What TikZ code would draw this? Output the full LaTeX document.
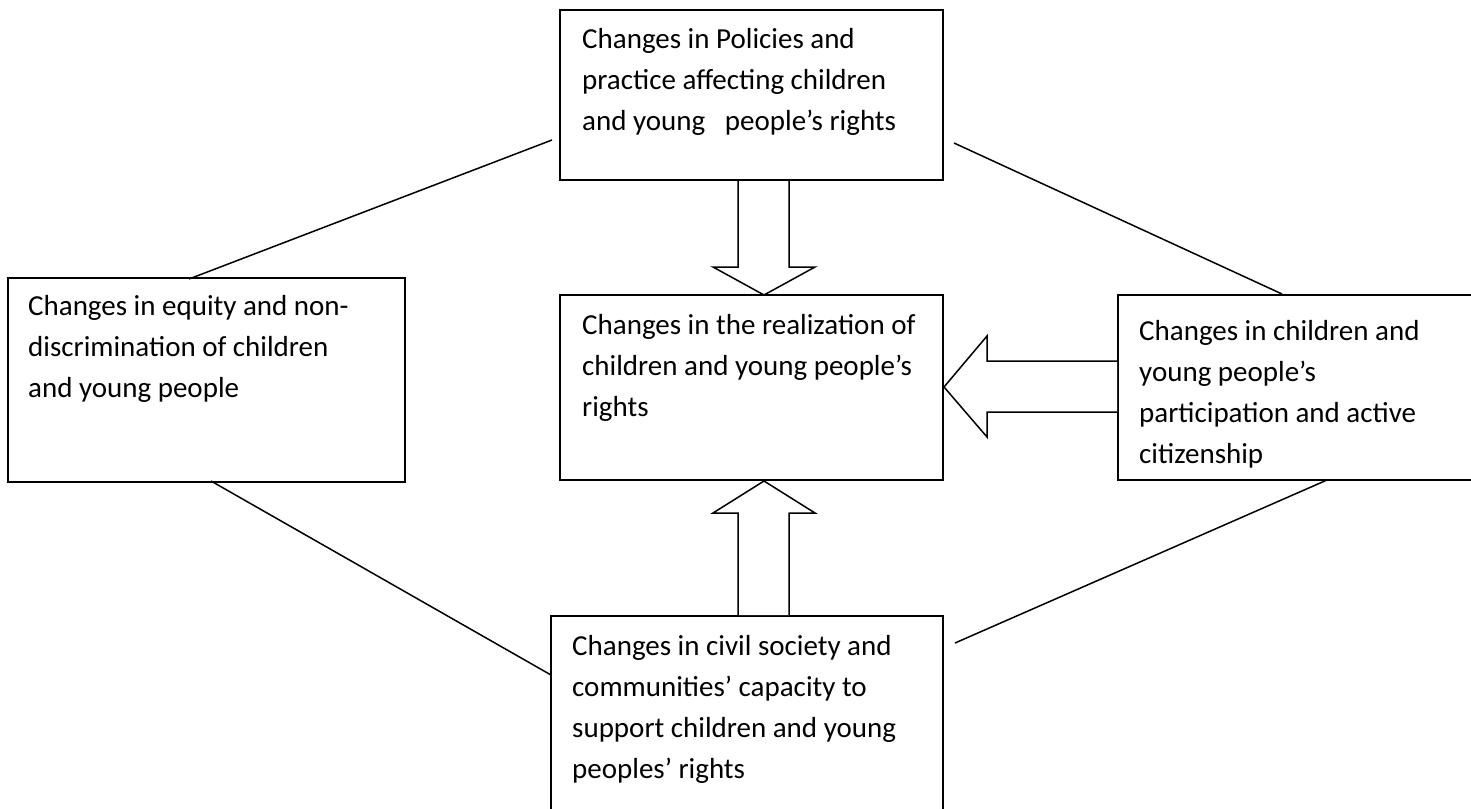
\documentclass[tikz,border=0pt]{standalone}
\usepackage{fontspec}
\setmainfont{Carlito}
\begin{document}
\begin{tikzpicture}[x=1pt,y=-1pt,
  box/.style={draw=black, line width=2pt, inner sep=0pt, outer sep=0pt, anchor=north west},
  txt/.style={anchor=base west, align=left, inner sep=0pt, font=\fontsize{29}{41}\selectfont},
  link/.style={draw=black, line width=1.5pt},
  blockarrow/.style={draw=black, line width=1.5pt, fill=white, line join=miter}]
\clip (0,0) rectangle (1471,808);
\fill[white] (0,0) rectangle (1471,808);
% boxes
\node[box, minimum width=383pt, minimum height=170pt] (top) at (560,10) {};
\node[box, minimum width=383pt, minimum height=185pt] (mid) at (560,295) {};
\node[box, minimum width=397pt, minimum height=204pt] (left) at (8,278) {};
\node[box, minimum width=370pt, minimum height=185pt] (right) at (1118,295) {};
\node[box, minimum width=392pt, minimum height=210pt] (bot) at (551,616) {};
% texts (anchored at the baseline of their last line)
\node[txt] (ttop) at (582,130) {Changes in Policies and\\practice affecting children\\and young~~~people’s rights};
\node[txt] (tmid) at (582,416) {Changes in the realization of\\children and young people’s\\rights};
\node[txt] (tleft) at (28,397) {Changes in equity and non-\\discrimination of children\\and young people};
\node[txt] (tright) at (1139,463) {Changes in children and\\young people’s\\participation and active\\citizenship};
\node[txt] (tbot) at (572,778) {Changes in civil society and\\communities’ capacity to\\support children and young\\peoples’ rights};
% free ends of the connecting lines
\coordinate (tlA) at (552,140);
\coordinate (trA) at (954,143);
\coordinate (blA) at (211,481);
\coordinate (brA) at (1327,480);
\coordinate (tlB) at (189,279);
\coordinate (trB) at (1282,294);
\coordinate (blB) at (551,675);
\coordinate (brB) at (955,643);
\draw[link] (tlA) -- (tlB);
\draw[link] (trA) -- (trB);
\draw[link] (blA) -- (blB);
\draw[link] (brA) -- (brB);
% block arrows
\draw[blockarrow] (738,181) -- (738,267) -- (713,267) -- (764,295) -- (815,267) -- (789,267) -- (789,181);
\draw[blockarrow] (738,615) -- (738,513) -- (713,513) -- (764,481) -- (815,513) -- (789,513) -- (789,615);
\draw[blockarrow] (1117,361) -- (987,361) -- (987,336) -- (944,387) -- (987,437) -- (987,412) -- (1117,412);
\end{tikzpicture}
\end{document}
